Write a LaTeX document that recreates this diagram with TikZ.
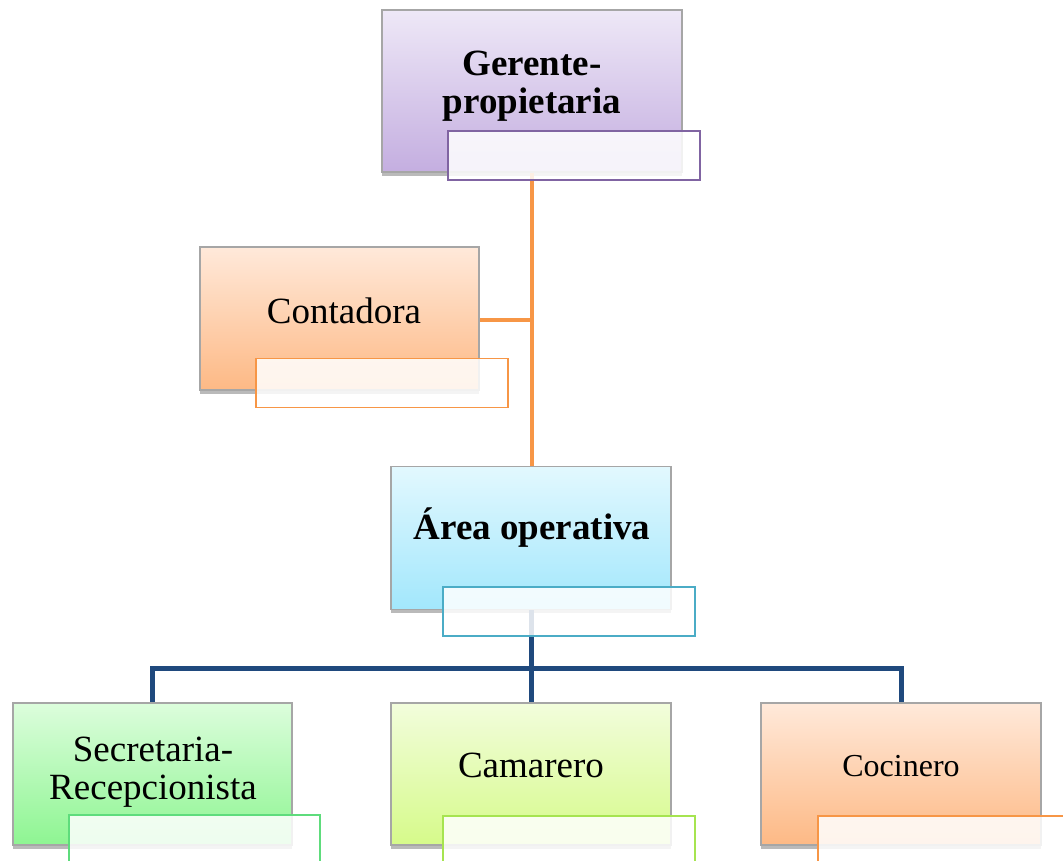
\documentclass[tikz,border=0pt]{standalone}
\usepackage{fontspec}
\setmainfont{Liberation Serif}
\usetikzlibrary{shadows}
\definecolor{orgline}{HTML}{F79646}
\definecolor{blueline}{HTML}{1F497D}
\definecolor{purT}{HTML}{EEE8F7}\definecolor{purB}{HTML}{C4AEE0}
\definecolor{orT}{HTML}{FFE9DA}\definecolor{orB}{HTML}{FDB985}
\definecolor{blT}{HTML}{E2F8FE}\definecolor{blB}{HTML}{A2E7FC}
\definecolor{grT}{HTML}{DCFDDC}\definecolor{grB}{HTML}{8EF592}
\definecolor{liT}{HTML}{F2FDDC}\definecolor{liB}{HTML}{D6FA8A}
\definecolor{purE}{HTML}{8064A2}
\definecolor{orE}{HTML}{F79646}
\definecolor{blE}{HTML}{4BACC6}
\definecolor{grE}{HTML}{5EDC7C}
\definecolor{liE}{HTML}{A6E450}
\tikzset{
  mainbox/.style={draw=black!35, line width=1.5pt, minimum width=280pt, minimum height=143pt, inner sep=0pt,
    drop shadow={shadow xshift=0pt, shadow yshift=-3.5pt, opacity=0.45, fill=black!60}},
  boxface/.style={draw=black!35, line width=1.5pt, minimum width=280pt, minimum height=143pt, inner sep=0pt},
  subbox/.style={draw=#1, line width=1.4pt, fill=white, fill opacity=0.85, draw opacity=1, minimum width=252pt, minimum height=49pt, inner sep=0pt},
  lbl/.style={font=\fontsize{37}{38}\selectfont, align=center, inner sep=0pt},
  blbl/.style={font=\fontsize{37}{38}\selectfont\bfseries, align=center, inner sep=0pt},
  oline/.style={draw=orgline, line width=4pt},
  bline/.style={draw=blueline, line width=5pt},
}
\begin{document}
\begin{tikzpicture}[x=1pt,y=-1pt]
\useasboundingbox (0,0) rectangle (1063,860);
% main boxes (with shadows)
\node[mainbox, minimum width=300pt, minimum height=162pt, top color=purT, bottom color=purB] (ger) at (532,91) {};
\node[mainbox, minimum width=279pt, top color=orT, bottom color=orB] (con) at (339.5,318.5) {};
\node[mainbox, top color=blT, bottom color=blB] (area) at (531,538) {};
\node[mainbox, minimum width=279pt, minimum height=142pt, top color=grT, bottom color=grB] (sec) at (152.5,774) {};
\node[mainbox, minimum height=142pt, top color=liT, bottom color=liB] (cam) at (531,774) {};
\node[mainbox, minimum height=142pt, top color=orT, bottom color=orB] (coc) at (901,774) {};
% connectors
\coordinate (jc) at (531.5,320);
\coordinate (bus) at (531,668);
\draw[oline] (ger.south -| jc) -- (area.north -| jc);
\draw[oline] (con.east |- jc) -- (jc);
\draw[bline] (area.south) -- (bus);
\draw[bline] (sec.north) |- (bus) -| (coc.north);
\draw[bline] (bus) -- (cam.north);
% box faces over connectors
\node[boxface, minimum width=300pt, minimum height=162pt, top color=purT, bottom color=purB] (gerf) at (ger) {};
\node[boxface, minimum width=279pt, top color=orT, bottom color=orB] (conf) at (con) {};
\node[boxface, top color=blT, bottom color=blB] (areaf) at (area) {};
\node[boxface, minimum width=279pt, minimum height=142pt, top color=grT, bottom color=grB] (secf) at (sec) {};
\node[boxface, minimum height=142pt, top color=liT, bottom color=liB] (camf) at (cam) {};
\node[boxface, minimum height=142pt, top color=orT, bottom color=orB] (cocf) at (coc) {};
% sub boxes
\node[subbox=purE] (gers) at (574,155.5) {};
\node[subbox=orE] (cons) at (382,383) {};
\node[subbox=blE] (areas) at (569,611.5) {};
\node[subbox=grE, minimum width=251pt] (secs) at (194.5,839.5) {};
\node[subbox=liE] (cams) at (569,840.5) {};
\node[subbox=orE] (cocs) at (944,840.5) {};
% labels
\node[blbl] (gert) at (532,86) {Gerente-\\propietaria};
\node[lbl] (cont) at (344,311) {Contadora};
\node[blbl] (areat) at (532,528) {Área operativa};
\node[lbl] (sect) at (153,772) {Secretaria-\\Recepcionista};
\node[lbl] (camt) at (531,765) {Camarero};
\node[lbl, font=\fontsize{32}{32}\selectfont] (coct) at (901,766) {Cocinero};
\end{tikzpicture}
\end{document}
